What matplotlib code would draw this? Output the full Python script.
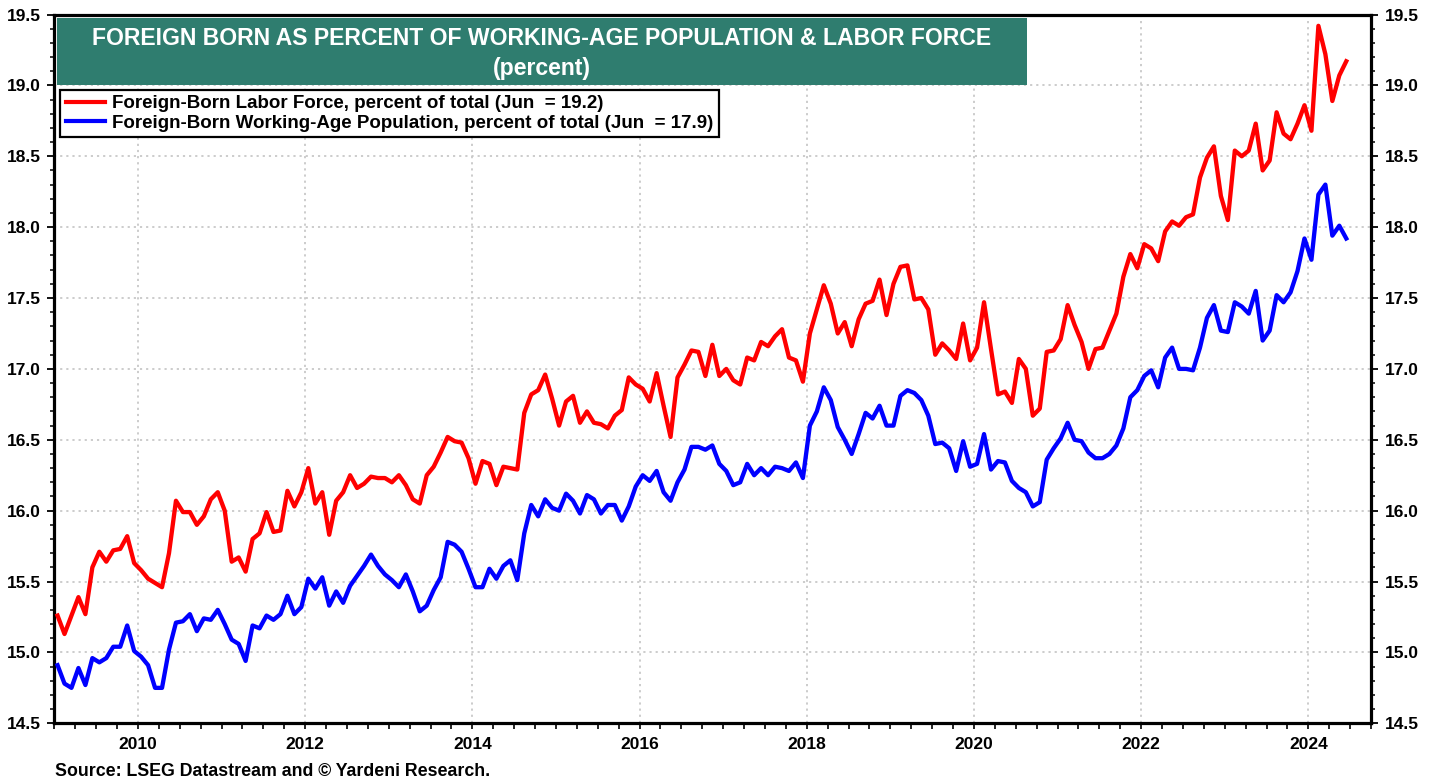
import matplotlib
matplotlib.use("Agg")
import matplotlib.pyplot as plt
from matplotlib.patches import Rectangle
from matplotlib.lines import Line2D
from matplotlib.ticker import MultipleLocator, FixedLocator
import numpy as np

plt.rcParams['font.family'] = ['Liberation Sans', 'DejaVu Sans']

# Monthly data, Jan 2009 .. Jun 2024
start_year = 2009
labor_force = [
    15.26, 15.13, 15.26, 15.39, 15.27, 15.60, 15.71, 15.64, 15.72, 15.73, 15.82, 15.63,
    15.58, 15.52, 15.49, 15.46, 15.70, 16.07, 15.99, 15.99, 15.90, 15.96, 16.08, 16.13,
    16.00, 15.64, 15.67, 15.57, 15.80, 15.84, 15.99, 15.85, 15.86, 16.14, 16.03, 16.13,
    16.30, 16.05, 16.13, 15.83, 16.07, 16.13, 16.25, 16.16, 16.19, 16.24, 16.23, 16.23,
    16.20, 16.25, 16.18, 16.08, 16.05, 16.25, 16.31, 16.41, 16.52, 16.49, 16.48, 16.37,
    16.19, 16.35, 16.33, 16.18, 16.31, 16.30, 16.29, 16.69, 16.82, 16.85, 16.96, 16.79,
    16.60, 16.77, 16.81, 16.62, 16.70, 16.62, 16.61, 16.58, 16.67, 16.71, 16.94, 16.89,
    16.86, 16.77, 16.97, 16.74, 16.52, 16.94, 17.03, 17.13, 17.12, 16.95, 17.17, 16.95,
    17.00, 16.92, 16.89, 17.08, 17.06, 17.19, 17.16, 17.23, 17.28, 17.08, 17.06, 16.91,
    17.25, 17.42, 17.59, 17.46, 17.25, 17.33, 17.16, 17.35, 17.46, 17.48, 17.63, 17.38,
    17.60, 17.72, 17.73, 17.49, 17.50, 17.42, 17.10, 17.18, 17.13, 17.07, 17.32, 17.06,
    17.15, 17.47, 17.14, 16.82, 16.84, 16.76, 17.07, 17.00, 16.67, 16.72, 17.12, 17.13,
    17.21, 17.45, 17.31, 17.19, 17.00, 17.14, 17.15, 17.27, 17.39, 17.65, 17.81, 17.71,
    17.88, 17.85, 17.76, 17.97, 18.04, 18.01, 18.07, 18.09, 18.35, 18.49, 18.57, 18.22,
    18.05, 18.54, 18.50, 18.54, 18.73, 18.40, 18.47, 18.81, 18.66, 18.62, 18.73, 18.86,
    18.68, 19.42, 19.22, 18.89, 19.07, 19.17,
]
working_age = [
    14.91, 14.78, 14.75, 14.89, 14.77, 14.96, 14.93, 14.96, 15.04, 15.04, 15.19, 15.01,
    14.97, 14.91, 14.75, 14.75, 15.02, 15.21, 15.22, 15.27, 15.15, 15.24, 15.23, 15.30,
    15.20, 15.09, 15.06, 14.94, 15.19, 15.17, 15.26, 15.23, 15.27, 15.40, 15.27, 15.32,
    15.52, 15.45, 15.53, 15.33, 15.43, 15.35, 15.47, 15.54, 15.61, 15.69, 15.61, 15.55,
    15.51, 15.46, 15.55, 15.43, 15.29, 15.33, 15.44, 15.53, 15.78, 15.76, 15.71, 15.59,
    15.46, 15.46, 15.59, 15.52, 15.61, 15.65, 15.51, 15.84, 16.04, 15.96, 16.08, 16.02,
    16.00, 16.12, 16.07, 15.98, 16.11, 16.08, 15.98, 16.04, 16.04, 15.93, 16.03, 16.17,
    16.25, 16.21, 16.28, 16.13, 16.07, 16.20, 16.29, 16.45, 16.45, 16.43, 16.46, 16.33,
    16.28, 16.18, 16.20, 16.33, 16.25, 16.30, 16.25, 16.31, 16.30, 16.28, 16.34, 16.23,
    16.60, 16.70, 16.87, 16.78, 16.59, 16.50, 16.40, 16.54, 16.69, 16.65, 16.74, 16.60,
    16.60, 16.81, 16.85, 16.83, 16.78, 16.67, 16.47, 16.48, 16.44, 16.28, 16.49, 16.31,
    16.33, 16.54, 16.29, 16.35, 16.34, 16.21, 16.16, 16.13, 16.03, 16.06, 16.36, 16.44,
    16.51, 16.62, 16.50, 16.49, 16.41, 16.37, 16.37, 16.40, 16.46, 16.58, 16.80, 16.85,
    16.95, 16.99, 16.87, 17.08, 17.15, 17.00, 17.00, 16.99, 17.15, 17.36, 17.45, 17.27,
    17.26, 17.47, 17.44, 17.39, 17.55, 17.20, 17.27, 17.52, 17.47, 17.54, 17.69, 17.92,
    17.77, 18.23, 18.30, 17.94, 18.01, 17.92,
]
x_tick_years = [2010, 2012, 2014, 2016, 2018, 2020, 2022, 2024]
title_line1 = "FOREIGN BORN AS PERCENT OF WORKING-AGE POPULATION & LABOR FORCE"
title_line2 = "(percent)"
label_lf = "Foreign-Born Labor Force, percent of total (Jun  = 19.2)"
label_wa = "Foreign-Born Working-Age Population, percent of total (Jun  = 17.9)"
source_text = "Source: LSEG Datastream and \u00a9 Yardeni Research."

n = len(labor_force)
x = start_year + (np.arange(n) + 0.45) / 12.0

W, H = 1438, 782
fig = plt.figure(figsize=(W / 100, H / 100), dpi=100)
left, right, bottom, top = 54.4, 1371, 723.3, 14.5
ax = fig.add_axes([left / W, 1 - bottom / H, (right - left) / W, (bottom - top) / H])


def ax_x(px):
    return (px - left) / (right - left)


def ax_y(py):
    return (bottom - py) / (bottom - top)


ax.set_xlim(2009, 2024.75)
ax.set_ylim(14.5, 19.5)

ax.set_xticks(x_tick_years)
ax.set_xticklabels([str(y) for y in x_tick_years])
ax.xaxis.set_minor_locator(FixedLocator(np.arange(2009, 2024.76, 0.25)))
yt = np.arange(14.5, 19.51, 0.5)
ax.set_yticks(yt)
ax.set_yticklabels([f"{v:.1f}" for v in yt])
ax.yaxis.set_minor_locator(MultipleLocator(0.1))
ax.grid(True, which='major', color='#c8c8c8', linestyle=(0, (1.2, 2.2)), linewidth=1.3)
ax.set_axisbelow(True)

ax.plot(x, labor_force, color='#ff0000', lw=3.1, zorder=3)
ax.plot(x, working_age, color='#0000ff', lw=3.1, zorder=3)

for s in ['left', 'right', 'bottom', 'top']:
    ax.spines[s].set_linewidth(2.3)
    ax.spines[s].set_color('black')

ax.tick_params(axis='y', which='both', left=True, right=True, labelleft=True, labelright=True,
               direction='out')
ax.tick_params(axis='y', which='major', length=5, width=1.3, labelsize=12.5, pad=5)
ax.tick_params(axis='y', which='minor', length=3, width=1.1)
ax.tick_params(axis='x', which='both', direction='out', length=4, width=1.2)
ax.tick_params(axis='x', which='major', labelsize=12.5, pad=6)
for t in ax.yaxis.get_major_ticks():
    t.label1.set_fontweight('bold')
    t.label2.set_fontweight('bold')
for t in ax.xaxis.get_major_ticks():
    t.label1.set_fontweight('bold')

# title box
box = Rectangle((ax_x(57), ax_y(85)), ax_x(1027) - ax_x(57), ax_y(18.3) - ax_y(85),
                transform=ax.transAxes, facecolor='#2f7d6f', edgecolor='none', zorder=4)
ax.add_patch(box)
cx = ax_x((57 + 1027) / 2)
ax.text(cx, ax_y(38.3), title_line1, transform=ax.transAxes,
        ha='center', va='center', color='white', fontsize=16.6, fontweight='bold', zorder=5)
ax.text(cx, ax_y(68.8), title_line2, transform=ax.transAxes,
        ha='center', va='center', color='white', fontsize=16.6, fontweight='bold', zorder=5)

# legend
handles = [Line2D([], [], color='#ff0000', lw=3.0), Line2D([], [], color='#0000ff', lw=3.0)]
leg = ax.legend(handles, [label_lf, label_wa], loc='upper left',
                bbox_to_anchor=(ax_x(60), ax_y(89.5)),
                frameon=True, fancybox=False, framealpha=1, edgecolor='black',
                borderpad=0.3, handlelength=2.1, handletextpad=0.4, labelspacing=0.12,
                borderaxespad=0, prop={'weight': 'bold', 'size': 13.5})
leg.get_frame().set_linewidth(1.6)
leg.set_zorder(6)

fig.text(55 / W, 1 - 772 / H, source_text, ha='left', va='center', fontsize=12.8,
         fontweight='bold')

fig.savefig('out.png', dpi=100)
